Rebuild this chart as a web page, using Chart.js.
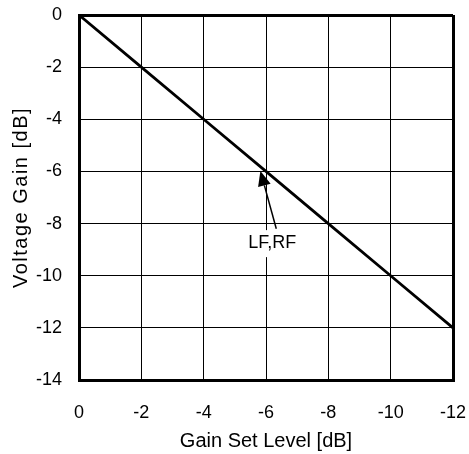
<!DOCTYPE html>
<html lang="en">

<head>
    <meta charset="UTF-8">
    <title>Voltage Gain vs Gain Set Level</title>
    <script src="https://cdn.jsdelivr.net/npm/chart.js"></script>
    <style>
        body {
            margin: 0;
            background: #fff;
        }
    </style>
</head>

<body>
    <canvas id="gainChart" width="469" height="454"></canvas>

    <script>
        // values
        const gainSetLevel = [0, -2, -4, -6, -8, -10, -12];
        const voltageGain = [0, -2, -4, -6, -8, -10, -12];
        const xTicks = [0, -2, -4, -6, -8, -10, -12];
        const yTicks = [0, -2, -4, -6, -8, -10, -12, -14];

        // annotation "LF,RF" (data coordinates)
        const labelText = 'LF,RF';
        const labelAt = [-6.2, -8.75];
        const arrowTail = [-6.33, -8.2];
        const arrowTip = [-5.82, -5.98];

        const fontFamily = '"Liberation Sans", Arial, Helvetica, sans-serif';

        const points = gainSetLevel.map((x, i) => ({ x: x, y: voltageGain[i] }));

        // thick frame on all four sides of the plot
        function edgeWidth(c) {
            const n = c.scale.ticks.length;
            return (c.index === 0 || c.index === n - 1) ? 3 : 1;
        }

        const annotation = {
            id: 'annotation',
            afterDatasetsDraw(chart) {
                const { ctx, scales: { x, y } } = chart;
                ctx.save();

                // label with white box
                ctx.font = '18px ' + fontFamily;
                const lx = x.getPixelForValue(labelAt[0]);
                const ly = y.getPixelForValue(labelAt[1]);
                const w = ctx.measureText(labelText).width;
                ctx.fillStyle = '#fff';
                ctx.fillRect(lx - w / 2 - 3, ly - 13, w + 6, 27);
                ctx.fillStyle = '#000';
                ctx.textAlign = 'center';
                ctx.textBaseline = 'middle';
                ctx.fillText(labelText, lx, ly);

                // arrow
                const tx = x.getPixelForValue(arrowTail[0]);
                const ty = y.getPixelForValue(arrowTail[1]);
                const hx = x.getPixelForValue(arrowTip[0]);
                const hy = y.getPixelForValue(arrowTip[1]);
                const ang = Math.atan2(hy - ty, hx - tx);
                const len = 15, half = 6.5;
                const bx = hx - len * Math.cos(ang);
                const by = hy - len * Math.sin(ang);
                ctx.strokeStyle = '#000';
                ctx.lineWidth = 1.5;
                ctx.beginPath();
                ctx.moveTo(tx, ty);
                ctx.lineTo(bx, by);
                ctx.stroke();
                ctx.beginPath();
                ctx.moveTo(hx, hy);
                ctx.lineTo(bx + half * Math.sin(ang), by - half * Math.cos(ang));
                ctx.lineTo(bx - half * Math.sin(ang), by + half * Math.cos(ang));
                ctx.closePath();
                ctx.fill();
                ctx.restore();
            }
        };

        // the y title in the reference is letter-spaced
        const spacedTitle = {
            id: 'spacedTitle',
            beforeDraw(chart) {
                const s = chart.scales.y;
                if (s._spaced) return;
                const orig = s.drawTitle;
                s.drawTitle = function () {
                    this.ctx.save();
                    this.ctx.letterSpacing = '1.5px';
                    orig.call(this);
                    this.ctx.restore();
                };
                s._spaced = true;
            }
        };

        const ctx = document.getElementById('gainChart').getContext('2d');
        new Chart(ctx, {
            type: 'line',
            data: {
                datasets: [{
                    label: 'LF,RF',
                    data: points,
                    borderColor: '#000',
                    borderWidth: 2.8,
                    pointRadius: 0,
                    fill: false,
                    tension: 0
                }]
            },
            options: {
                responsive: false,
                animation: false,
                layout: {
                    padding: { top: 15, right: 16, left: 0, bottom: 0 }
                },
                plugins: {
                    legend: { display: false },
                    tooltip: { enabled: false }
                },
                scales: {
                    x: {
                        type: 'linear',
                        reverse: true,
                        min: -12,
                        max: 0,
                        afterFit: function (scale) { scale.height = 74; },
                        afterBuildTicks: function (scale) {
                            scale.ticks = xTicks.slice().reverse().map(v => ({ value: v }));
                        },
                        ticks: {
                            color: '#000',
                            padding: 22,
                            maxRotation: 0,
                            font: { family: fontFamily, size: 18 }
                        },
                        grid: {
                            color: '#000',
                            lineWidth: edgeWidth,
                            drawTicks: false
                        },
                        border: { color: '#000', width: 3 },
                        title: {
                            display: true,
                            text: 'Gain Set Level [dB]',
                            color: '#000',
                            padding: { top: 0, bottom: 1 },
                            font: { family: fontFamily, size: 20 }
                        }
                    },
                    y: {
                        type: 'linear',
                        min: -14,
                        max: 0,
                        afterFit: function (scale) {
                            scale.width = 79;
                            scale.paddingTop = 0;
                            scale.paddingBottom = 0;
                        },
                        afterBuildTicks: function (scale) {
                            scale.ticks = yTicks.slice().reverse().map(v => ({ value: v }));
                        },
                        ticks: {
                            color: '#000',
                            padding: 17,
                            font: { family: fontFamily, size: 18 }
                        },
                        grid: {
                            color: '#000',
                            lineWidth: edgeWidth,
                            drawTicks: false
                        },
                        border: { color: '#000', width: 3 },
                        title: {
                            display: true,
                            text: 'Voltage Gain [dB]',
                            color: '#000',
                            padding: { top: 9, bottom: 0 },
                            font: { family: fontFamily, size: 20 }
                        }
                    }
                }
            },
            plugins: [annotation, spacedTitle]
        });
    </script>
</body>

</html>
